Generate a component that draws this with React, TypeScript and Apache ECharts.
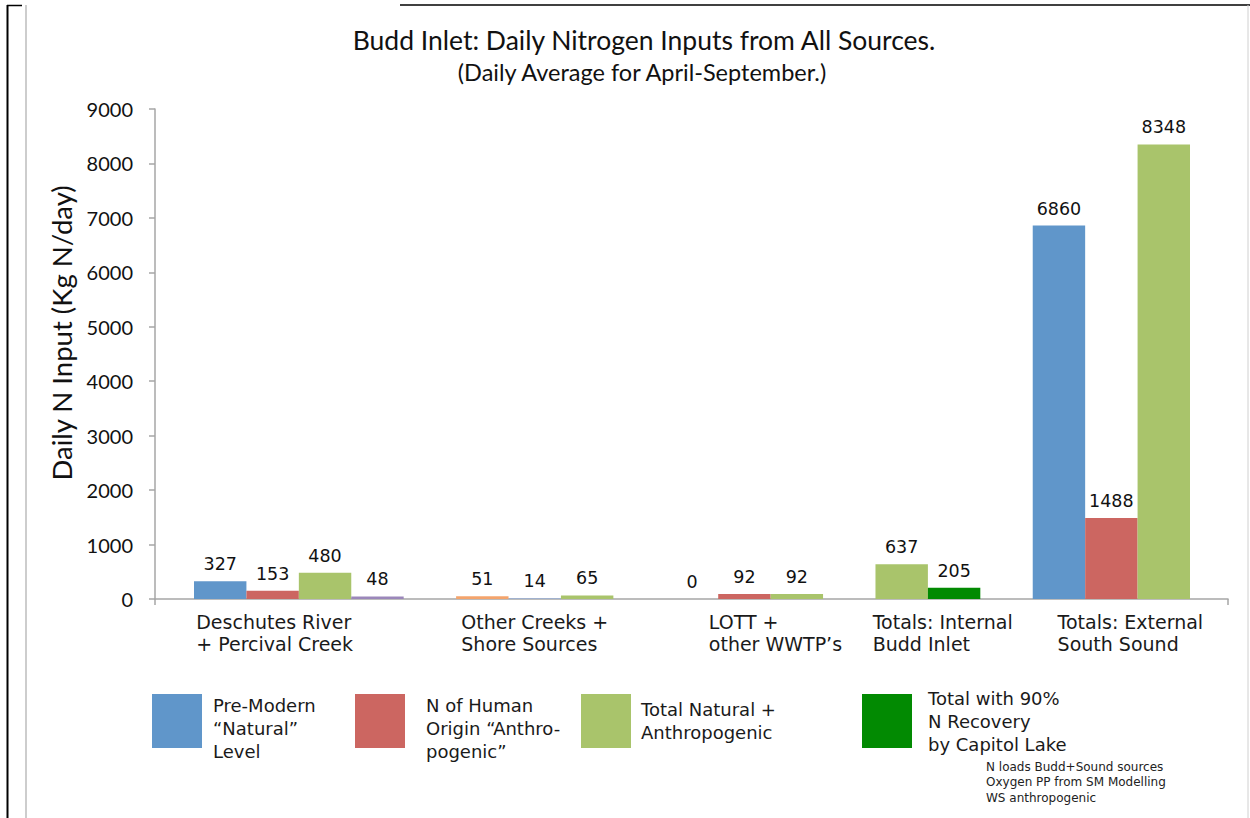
import React, { useEffect, useRef } from "react";
import * as echarts from "echarts";

// ---- data ----
const categories = [
  "Deschutes River\n+ Percival Creek",
  "Other Creeks +\nShore Sources",
  "LOTT +\nother WWTP’s",
  "Totals: Internal\nBudd Inlet",
  "Totals: External\nSouth Sound",
];
const seriesNames = [
  "Pre-Modern\n“Natural”\nLevel",
  "N of Human\nOrigin “Anthro-\npogenic”",
  "Total Natural +\nAnthropogenic",
  "Total with 90%\nN Recovery\nby Capitol Lake",
];
const naturalLevel = [327, 51, 0, null, 6860];
const anthropogenic = [153, 14, 92, null, 1488];
const totalNatAnth = [480, 65, 92, 637, 8348];
const totalRecovery = [48, null, null, 205, null];
const yTicks = [0, 1000, 2000, 3000, 4000, 5000, 6000, 7000, 8000, 9000];

// ---- styles ----
const seriesColors = ["#6096CA", "#CC6661", "#A9C46B", "#028A02"];
const pointColors: Record<string, string> = {
  "3-0": "#9B87BA",
  "0-1": "#F4A46C",
  "1-1": "#97AED5",
};
const labelShift = [2, 0, 31, 41, 19];
const legendPos = [
  { left: 152, top: 679.5, gap: 6, drop: 14 },
  { left: 355, top: 679.5, gap: 16, drop: 14 },
  { left: 581, top: 694, gap: 5, drop: 0 },
  { left: 862, top: 686.5, gap: 11, drop: 0 },
];

const SERIF = "DejaVu Sans, Verdana, sans-serif";
const CAL = "Lato, 'Open Sans', sans-serif";

export default function App() {
  const ref = useRef<HTMLDivElement>(null);
  useEffect(() => {
    if (!ref.current) return;
    const chart = echarts.init(ref.current, undefined, { renderer: "svg" });
    const all = [naturalLevel, anthropogenic, totalNatAnth, totalRecovery];

    // build slot list
    const slots: { c: number; s: number }[] = [];
    const groupSlots: number[][] = [];
    categories.forEach((_, c) => {
      const g: number[] = [];
      all.forEach((arr, s) => {
        if (arr[c] !== null && arr[c] !== undefined) {
          g.push(slots.length);
          slots.push({ c, s });
        }
      });
      groupSlots.push(g);
      if (c < categories.length - 1) slots.push({ c: -1, s: -1 });
    });
    const anchor: Record<number, number> = {};
    groupSlots.forEach((g, c) => {
      anchor[g[Math.floor((g.length - 1) / 2)]] = c;
    });

    const rich: any = {};
    categories.forEach((_, c) => {
      const sh = labelShift[c];
      rich["c" + c] = {
        align: "left",
        fontFamily: SERIF,
        fontSize: 19,
        color: "#1a1a1a",
        lineHeight: 22,
        padding: sh >= 0 ? [0, 0, 0, 2 * sh] : [0, -2 * sh, 0, 0],
      };
    });

    const series = all.map((arr, s) => ({
      name: seriesNames[s],
      type: "bar",
      stack: "one",
      xAxisIndex: 1,
      yAxisIndex: 1,
      barCategoryGap: "0%",
      itemStyle: { color: seriesColors[s] },
      label: {
        show: true,
        position: "top",
        distance: 8,
        fontFamily: SERIF,
        fontSize: 17.5,
        color: "#111",
        formatter: (p: any) => (p.value === null || p.value === undefined ? "" : String(p.value)),
      },
      data: slots.map((sl) => {
        if (sl.s !== s) return null;
        const v = arr[sl.c];
        const col = pointColors[`${s}-${sl.c}`];
        return col ? { value: v, itemStyle: { color: col } } : v;
      }),
    }));

    const legendText = { fontFamily: SERIF, fontSize: 18, lineHeight: 23, color: "#1a1a1a" };

    const option: any = {
      animation: false,
      backgroundColor: "#fff",
      title: [
        {
          text: "Budd Inlet: Daily Nitrogen Inputs from All Sources.",
          left: 639,
          top: 21,
          textAlign: "center",
          textStyle: { fontFamily: CAL, fontSize: 26.5, fontWeight: "normal", color: "#111" },
        },
        {
          text: "(Daily Average for April-September.)",
          left: 637,
          top: 55,
          textAlign: "center",
          textStyle: { fontFamily: CAL, fontSize: 23.5, fontWeight: "normal", color: "#111" },
        },
      ],
      legend: seriesNames.map((n, i) => ({
        data: [n],
        left: legendPos[i].left,
        top: legendPos[i].top,
        padding: 0,
        orient: "horizontal",
        icon: "rect",
        itemWidth: 50,
        itemHeight: 54,
        selectedMode: false,
        formatter: (name: string) => {
          const body = name
            .split("\n")
            .map((l) => `{n|${l}}`)
            .join("\n");
          return legendPos[i].drop ? `{s| }\n${body}` : body;
        },
        textStyle: {
          ...legendText,
          padding: [0, 0, 0, legendPos[i].gap],
          rich: {
            s: { fontFamily: SERIF, fontSize: 2, lineHeight: legendPos[i].drop || 1, color: "#fff" },
            n: { ...legendText },
          },
        },
      })),
      grid: [
        { left: 155, right: 22, top: 109, bottom: 219, containLabel: false },
        { left: 194, right: 60, top: 109, bottom: 219, containLabel: false },
      ],
      xAxis: [
        {
          type: "value",
          gridIndex: 0,
          min: 0,
          max: 1,
          interval: 1,
          axisLine: { show: true, lineStyle: { color: "#A6A6A6", width: 1.5 } },
          axisTick: { show: true, length: 6, lineStyle: { color: "#A6A6A6", width: 1.5 } },
          axisLabel: { show: false },
          splitLine: { show: false },
        },
        {
          type: "category",
          gridIndex: 1,
          data: slots.map((_, i) => String(i)),
          axisLine: { show: false },
          axisTick: { show: false },
          axisLabel: {
            interval: 0,
            margin: 12,
            fontFamily: SERIF,
            fontSize: 19,
            lineHeight: 22,
            color: "#1a1a1a",
            rich,
            formatter: (_v: string, idx: number) => {
              const c = anchor[idx];
              if (c === undefined) return "";
              return categories[c]
                .split("\n")
                .map((line) => `{c${c}|${line}}`)
                .join("\n");
            },
          },
        },
      ],
      yAxis: [
        {
          type: "value",
          gridIndex: 0,
          min: yTicks[0],
          max: yTicks[yTicks.length - 1],
          interval: yTicks[1] - yTicks[0],
          name: "Daily N Input (Kg N/day)",
          nameLocation: "middle",
          nameGap: 62,
          nameTextStyle: {
            fontFamily: CAL,
            fontSize: 27.5,
            color: "#111",
            padding: [0, 0, 0, 42],
          },
          axisLine: { show: true, lineStyle: { color: "#A6A6A6", width: 1.5 } },
          axisTick: { show: true, length: 6, lineStyle: { color: "#A6A6A6", width: 1.5 } },
          axisLabel: {
            margin: 22,
            fontFamily: CAL,
            fontSize: 20,
            color: "#111",
            formatter: (v: number) => String(v),
          },
          splitLine: { show: false },
        },
        {
          type: "value",
          gridIndex: 1,
          min: yTicks[0],
          max: yTicks[yTicks.length - 1],
          interval: yTicks[1] - yTicks[0],
          show: false,
        },
      ],
      series,
      graphic: [
        { type: "line", shape: { x1: 7.5, y1: 5, x2: 7.5, y2: 818 }, style: { stroke: "#000", lineWidth: 2 } },
        { type: "line", shape: { x1: 7, y1: 5.5, x2: 22, y2: 5.5 }, style: { stroke: "#000", lineWidth: 1.5 } },
        { type: "line", shape: { x1: 400, y1: 5, x2: 1250, y2: 5 }, style: { stroke: "#000", lineWidth: 1.5 } },
        { type: "line", shape: { x1: 26, y1: 5, x2: 26, y2: 818 }, style: { stroke: "#BDBDBD", lineWidth: 1.5 } },
        { type: "line", shape: { x1: 1248, y1: 5, x2: 1248, y2: 818 }, style: { stroke: "#D0D0D0", lineWidth: 1 } },
        {
          type: "text",
          left: 986,
          top: 759,
          style: {
            text: "N loads Budd+Sound sources\nOxygen PP from SM Modelling\nWS anthropogenic",
            fontFamily: SERIF,
            fontSize: 12,
            lineHeight: 15.5,
            fill: "#222",
          },
        },
      ],
    };
    chart.setOption(option);
    return () => chart.dispose();
  }, []);
  return (
    <div
      ref={ref}
      style={{ position: "fixed", left: 0, top: 0, width: 1250, height: 818, background: "#fff" }}
    />
  );
}
